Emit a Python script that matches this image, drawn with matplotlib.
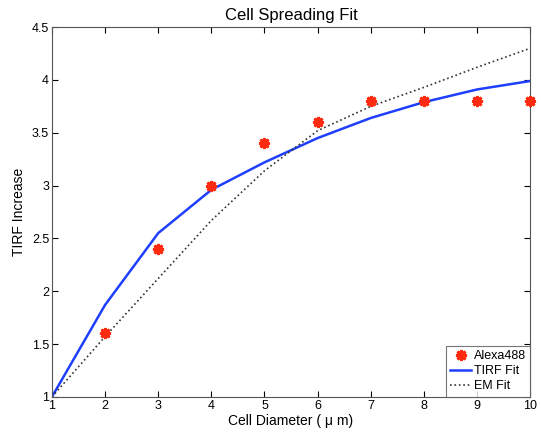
import numpy as np
import matplotlib.pyplot as plt

plt.rcParams['font.family'] = ['Liberation Sans', 'DejaVu Sans']

diameter = [1, 2, 3, 4, 5, 6, 7, 8, 9, 10]
alexa_x = [2, 3, 4, 5, 6, 7, 8, 9, 10]
alexa488 = [1.6, 2.4, 3.0, 3.4, 3.6, 3.8, 3.8, 3.8, 3.8]
tirf_fit = [1.0, 1.87, 2.55, 2.96, 3.22, 3.45, 3.64, 3.79, 3.91, 3.99]
em_fit = [1.0, 1.57, 2.12, 2.67, 3.14, 3.52, 3.75, 3.93, 4.12, 4.30]

fig = plt.figure(figsize=(5.41, 4.38), dpi=100)
ax = fig.add_axes([0.096, 0.094, 0.884, 0.844])

ax.plot(alexa_x, alexa488, linestyle='none', marker=(8, 2, 0), color='#ff2a10',
        markersize=8, markeredgewidth=2.0, label='Alexa488', clip_on=False, zorder=3)
ax.plot(diameter, tirf_fit, color='#1f3fff', linewidth=1.8, label='TIRF Fit')
ax.plot(diameter, em_fit, color='#333333', linestyle=':', linewidth=1.2, label='EM Fit')

ax.set_xlim(1, 10)
ax.set_ylim(1, 4.5)
ax.set_xticks(range(1, 11))
ax.set_yticks([1, 1.5, 2, 2.5, 3, 3.5, 4, 4.5])
ax.set_yticklabels(['1', '1.5', '2', '2.5', '3', '3.5', '4', '4.5'])
ax.tick_params(direction='in', top=True, right=True, labelsize=9, length=4, pad=2)
for s in ax.spines.values():
    s.set_color('#555555')

ax.set_title('Cell Spreading Fit', fontsize=12, pad=5)
ax.set_xlabel('Cell Diameter ( μ m)', fontsize=10, labelpad=2)
ax.set_ylabel('TIRF Increase', fontsize=10, labelpad=4)

leg = ax.legend(loc='lower right', fontsize=9, handlelength=1.7, handletextpad=0.2,
                borderpad=0.35, labelspacing=0.25, fancybox=False, borderaxespad=0.0)
leg.get_frame().set_edgecolor('#555555')
leg.get_frame().set_linewidth(0.8)

fig.savefig('out.png', dpi=100)
